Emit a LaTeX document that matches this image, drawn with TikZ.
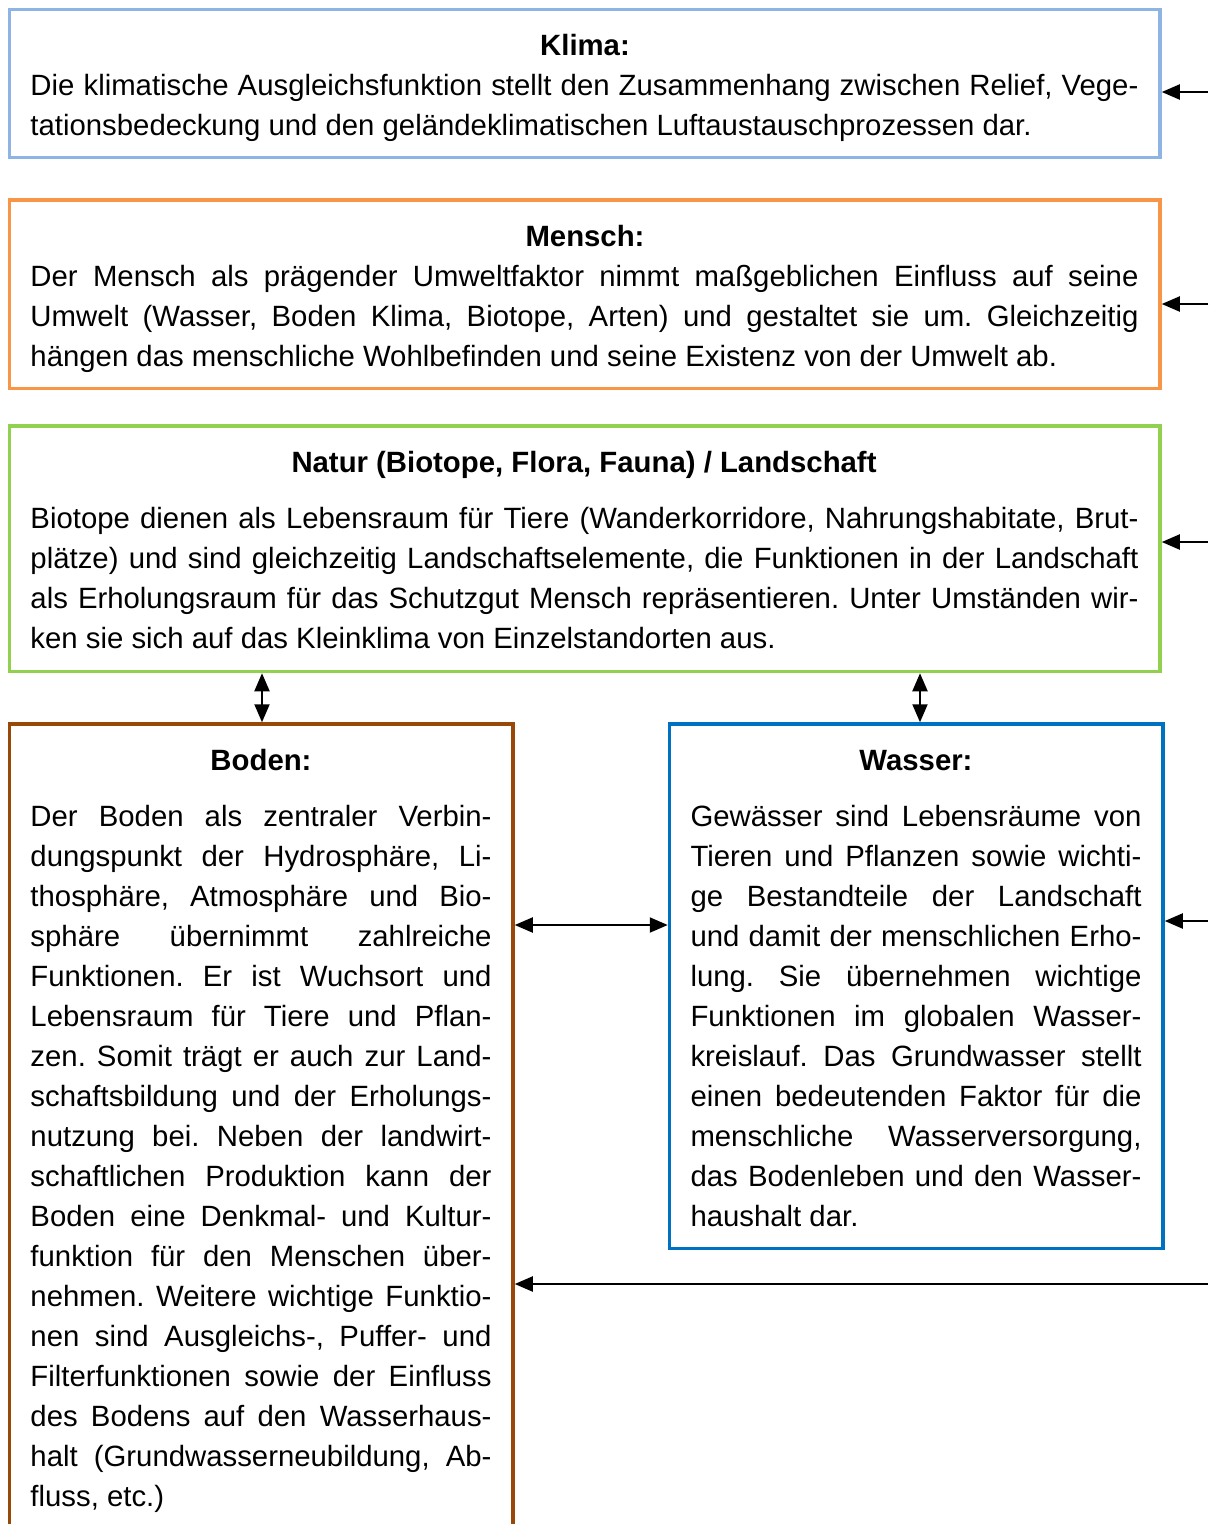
\documentclass[tikz,border=0pt]{standalone}
\usepackage{fontspec}
\setmainfont{Liberation Sans}
\usetikzlibrary{arrows.meta}
\definecolor{klimac}{HTML}{8EB4E3}
\definecolor{menschc}{HTML}{F79646}
\definecolor{naturc}{HTML}{92D050}
\definecolor{bodenc}{HTML}{984807}
\definecolor{wasserc}{HTML}{0070C0}
\newcommand{\bxstart}{\frenchspacing\hyphenpenalty=10000\exhyphenpenalty=10000\tolerance=10000\emergencystretch=0pt\strut}
\begin{document}
\begin{tikzpicture}[x=1pt,y=-1pt,
  box/.style={draw=#1, line width=3.5pt, inner sep=0pt},
  txt/.style={inner sep=0pt, outer sep=0pt, align=justify, font=\fontsize{29.33}{40}\selectfont, anchor=north west},
  ttl/.style={inner sep=0pt, font=\fontsize{29.33}{40}\selectfont\bfseries, anchor=base},
  arr/.style={line width=2pt, -{Triangle[length=18pt,width=15pt]}},
  darr/.style={line width=2pt, {Triangle[length=18pt,width=15pt]}-{Triangle[length=18pt,width=15pt]}}]
\useasboundingbox (0,0) rectangle (1208,1524);
\clip (0,0) rectangle (1208,1524);

% boxes
\node[box=klimac, minimum width=1150.5pt, minimum height=148pt] (klima) at (584.75,83.5) {};
\node[box=menschc, minimum width=1150.5pt, minimum height=188.5pt] (mensch) at (584.75,294.25) {};
\node[box=naturc, minimum width=1150.5pt, minimum height=245.5pt] (natur) at (584.75,548.75) {};
\node[box=bodenc, minimum width=503.5pt, minimum height=816pt] (boden) at (261.25,1132) {};
\node[box=wasserc, minimum width=493.5pt, minimum height=524.5pt] (wasser) at (916.25,986.25) {};

% titles
\node[ttl] (klimat) at (585,55) {Klima:};
\node[ttl] (menscht) at (585,246) {Mensch:};
\node[ttl] (naturt) at (584,472) {Natur (Biotope, Flora, Fauna) / Landschaft};
\node[ttl] (bodent) at (261,770) {Boden:};
\node[ttl] (wassert) at (916,770) {Wasser:};

% texts
\node[txt, text width=1108pt] (klimax) at (30.5,67) {\bxstart Die klimatische Ausgleichsfunktion stellt den Zusammenhang zwischen Relief, Vege-\linebreak tationsbedeckung und den geländeklimatischen Luftaustauschprozessen dar.};
\node[txt, text width=1108pt] (menschx) at (30.5,258) {\bxstart Der Mensch als prägender Umweltfaktor nimmt maßgeblichen Einfluss auf seine \linebreak Umwelt (Wasser, Boden Klima, Biotope, Arten) und gestaltet sie um. Gleichzeitig \linebreak hängen das menschliche Wohlbefinden und seine Existenz von der Umwelt ab.};
\node[txt, text width=1108pt] (naturx) at (30.5,500) {\bxstart Biotope dienen als Lebensraum für Tiere (Wanderkorridore, Nahrungshabitate, Brut-\linebreak plätze) und sind gleichzeitig Landschaftselemente, die Funktionen in der Landschaft \linebreak als Erholungsraum für das Schutzgut Mensch repräsentieren. Unter Umständen wir-\linebreak ken sie sich auf das Kleinklima von Einzelstandorten aus.};
\node[txt, text width=461pt] (bodenx) at (30.5,798) {\bxstart Der Boden als zentraler Verbin-\linebreak dungspunkt der Hydrosphäre, Li-\linebreak thosphäre, Atmosphäre und Bio-\linebreak sphäre übernimmt zahlreiche \linebreak Funktionen. Er ist Wuchsort und \linebreak Lebensraum für Tiere und Pflan-\linebreak zen. Somit trägt er auch zur Land-\linebreak schaftsbildung und der Erholungs-\linebreak nutzung bei. Neben der landwirt-\linebreak schaftlichen Produktion kann der \linebreak Boden eine Denkmal- und Kultur-\linebreak funktion für den Menschen über-\linebreak nehmen. Weitere wichtige Funktio-\linebreak nen sind Ausgleichs-, Puffer- und \linebreak Filterfunktionen sowie der Einfluss \linebreak des Bodens auf den Wasserhaus-\linebreak halt (Grundwasserneubildung, Ab-\linebreak fluss, etc.)};
\node[txt, text width=451pt] (wasserx) at (690.5,798) {\bxstart Gewässer sind Lebensräume von \linebreak Tieren und Pflanzen sowie wichti-\linebreak ge Bestandteile der Landschaft \linebreak und damit der menschlichen Erho-\linebreak lung. Sie übernehmen wichtige \linebreak Funktionen im globalen Wasser-\linebreak kreislauf. Das Grundwasser stellt \linebreak einen bedeutenden Faktor für die \linebreak menschliche Wasserversorgung, \linebreak das Bodenleben und den Wasser-\linebreak haushalt dar.};

% free ends on the right edge
\coordinate (rk) at (1208,92);
\coordinate (rm) at (1208,304);
\coordinate (rn) at (1208,542);
\coordinate (rw) at (1208,921);
\coordinate (rb) at (1208,1284);
\coordinate (hb) at (262,925);
\coordinate (vb) at (262,700);
\coordinate (vw) at (920,700);

% connectors
\draw[arr] (rk) -- (rk -| klima.east);
\draw[arr] (rm) -- (rm -| mensch.east);
\draw[arr] (rn) -- (rn -| natur.east);
\draw[arr] (rw) -- (rw -| wasser.east);
\draw[arr] (rb) -- (rb -| boden.east);
\draw[darr] (vb |- natur.south) -- (vb |- boden.north);
\draw[darr] (vw |- natur.south) -- (vw |- wasser.north);
\draw[darr] (hb -| boden.east) -- (hb -| wasser.west);
\end{tikzpicture}
\end{document}
